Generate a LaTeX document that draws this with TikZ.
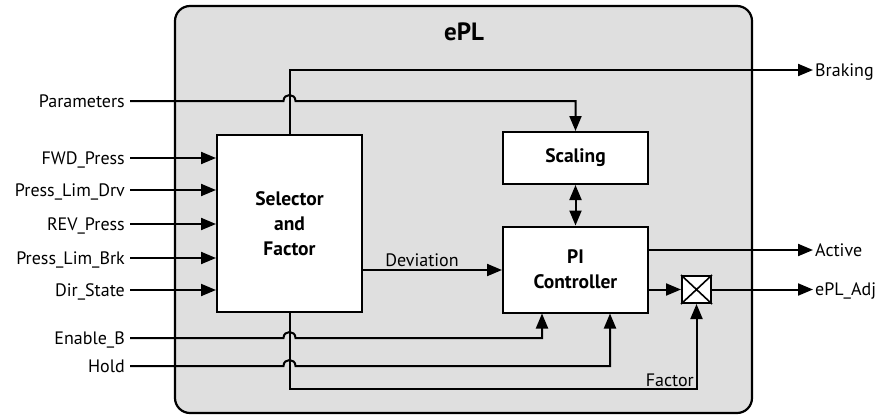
\documentclass[tikz,border=0pt]{standalone}
\usepackage{fontspec}
\setmainfont{PT Sans}
\usetikzlibrary{arrows.meta}
\newcommand{\lblfont}{\fontsize{18}{20}\selectfont}
\newcommand{\blkfont}{\fontsize{19.5}{25}\selectfont\bfseries}
\newcommand{\titlefont}{\fontsize{25}{28}\selectfont\bfseries}
\definecolor{panel}{HTML}{DFDFDF}
\begin{document}
\begin{tikzpicture}[x=1pt,y=-1pt,
  wire/.style={line width=2pt},
  arr/.style={wire,-{Triangle[length=15pt,width=12pt]}},
  dblarr/.style={wire,{Triangle[length=15pt,width=12pt]}-{Triangle[length=15pt,width=12pt]}},
  block/.style={draw,line width=2pt,fill=white,font=\blkfont,align=center,inner sep=0pt},
  lbl/.style={font=\lblfont,inner sep=0pt},
]
\useasboundingbox (0,0) rectangle (880,416);

% outer module frame
\node[draw,line width=2.2pt,fill=panel,rounded corners=15pt,
      minimum width=577pt,minimum height=407pt,inner sep=0pt] (frame) at (463.5,209.5) {};
\node[font=\titlefont,inner sep=0pt] (title) at (464,32) {ePL};

% blocks
\node[block,minimum width=145pt,minimum height=177pt] (sel) at (289.5,223.5) {Selector\\and\\Factor};
\node[block,minimum width=145pt,minimum height=52pt] (scal) at (575.5,158) {Scaling};
\node[block,minimum width=145pt,minimum height=86pt] (pi) at (575.5,269.5) {PI\\Controller};
\node[draw,line width=2pt,fill=white,minimum width=29pt,minimum height=27pt,inner sep=0pt] (mult) at (696.5,289.5) {};
\draw[line width=1.6pt] (mult.north west) -- (mult.south east) (mult.north east) -- (mult.south west);

% input signal end points
\coordinate (par) at (130,101);
\coordinate (i1) at (130,158);
\coordinate (i2) at (130,190);
\coordinate (i3) at (130,224);
\coordinate (i4) at (130,258);
\coordinate (i5) at (130,290);
\coordinate (en) at (130,338);
\coordinate (hd) at (130,366);
\coordinate (enx) at (542,338);
\coordinate (hdx) at (610,366);
\coordinate (fac) at (697,389);
\coordinate (dev) at (362,270);
% output end points
\coordinate (brk) at (813,70);
\coordinate (act) at (813,250);
\coordinate (adj) at (813,289.5);

% input labels
\node[lbl,anchor=base east] (lpar) at (125,107) {Parameters};
\node[lbl,anchor=base east] (l1) at (125,164) {FWD\_Press};
\node[lbl,anchor=base east] (l2) at (125,196) {Press\_Lim\_Drv};
\node[lbl,anchor=base east] (l3) at (125,230) {REV\_Press};
\node[lbl,anchor=base east] (l4) at (125,264) {Press\_Lim\_Brk};
\node[lbl,anchor=base east] (l5) at (125,296) {Dir\_State};
\node[lbl,anchor=base east] (len) at (125,344) {Enable\_B};
\node[lbl,anchor=base east] (lhd) at (125,372) {Hold};
% output labels
\node[lbl,anchor=base west] (lbrk) at (815,76) {Braking};
\node[lbl,anchor=base west] (lact) at (815,256) {Active};
\node[lbl,anchor=base west] (ladj) at (815,295.5) {ePL\_Adj};
% inner labels
\node[lbl,anchor=base] (ldev) at (422,266) {Deviation};
\node[lbl,anchor=base east] (lfac) at (694,386) {Factor};

% selector inputs
\foreach \i in {i1,i2,i3,i4,i5}
  \draw[arr] (\i) -- (sel.west |- \i);

% parameters to scaling, jumping over the braking wire
\draw[arr] (par) -- (283.5,101) .. controls (283.5,93) and (295.5,93) .. (295.5,101)
  -- (scal.north |- par) -- (scal.north);

% braking output
\draw[arr] (sel.north) -- (sel.north |- brk) -- (brk);

% deviation
\draw[arr] (dev) -- (pi.west |- dev);

% scaling <-> PI
\draw[dblarr] (scal.south) -- (pi.north);

% PI outputs
\draw[arr] (pi.east |- act) -- (act);
\draw[arr] (pi.east |- mult.west) -- (mult.west);
\draw[arr] (mult.east) -- (adj);

% enable and hold, jumping over the factor wire
\draw[arr] (en) -- (283.5,338) .. controls (283.5,330) and (295.5,330) .. (295.5,338)
  -- (enx) -- (enx |- pi.south);
\draw[arr] (hd) -- (283.5,366) .. controls (283.5,358) and (295.5,358) .. (295.5,366)
  -- (hdx) -- (hdx |- pi.south);

% factor to multiplier
\draw[arr] (sel.south) -- (sel.south |- fac) -- (mult.south |- fac) -- (mult.south);
\end{tikzpicture}
\end{document}
